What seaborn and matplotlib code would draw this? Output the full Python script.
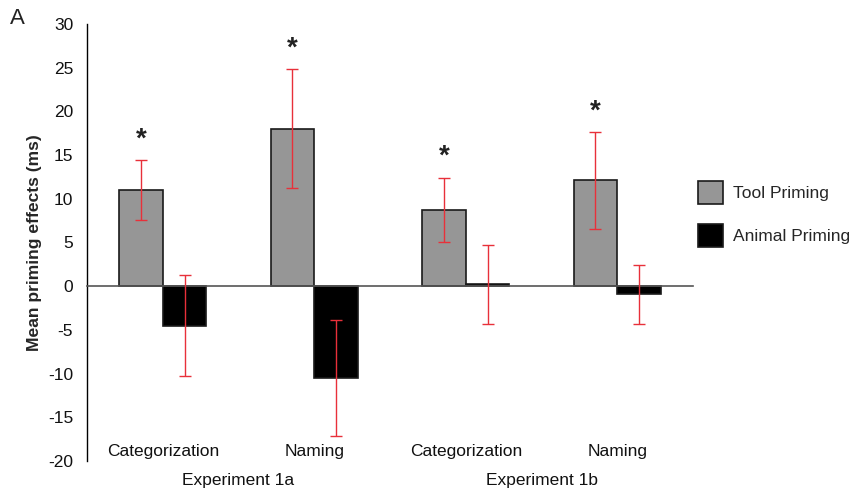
import matplotlib
matplotlib.use("Agg")
import matplotlib.pyplot as plt
import seaborn as sns
import pandas as pd
import numpy as np

# ---- data ----
categories = ["Categorization", "Naming", "Categorization ", "Naming "]
cat_labels = ["Categorization", "Naming", "Categorization", "Naming"]
groups = ["Experiment 1a", "Experiment 1b"]
tool_values = [11.0, 18.0, 8.7, 12.1]
tool_err = [3.4, 6.8, 3.7, 5.5]
animal_values = [-4.5, -10.5, 0.2, -0.95]
animal_err = [5.8, 6.6, 4.5, 3.4]
series = ["Tool Priming", "Animal Priming"]
significant = [True, True, True, True]

sns.set_theme(style="white")
plt.rcParams['font.family'] = ['Liberation Sans', 'DejaVu Sans']
plt.rcParams['axes.unicode_minus'] = False

df = pd.DataFrame({
    "cat": categories * 2,
    "series": [series[0]] * 4 + [series[1]] * 4,
    "value": tool_values + animal_values,
})

fig = plt.figure(figsize=(8.58, 4.96), dpi=100)
ax = fig.add_axes([0.1014, 0.0706, 0.8077 - 0.1014, 0.9516 - 0.0706])

sns.barplot(data=df, x="cat", y="value", hue="series", order=categories,
            hue_order=series, palette=["#969696", "#000000"], width=0.577,
            errorbar=None, edgecolor="#1a1a1a", linewidth=1.2, ax=ax,
            legend=True)

# error bars from bar patch centers
errs = tool_err + animal_err
vals = tool_values + animal_values
bars = [p for p in ax.patches if p.get_width() > 0][:8]
bars_sorted = sorted(bars[:4], key=lambda p: p.get_x()) + sorted(bars[4:8], key=lambda p: p.get_x())
for p, v, e in zip(bars_sorted, vals, errs):
    cx = p.get_x() + p.get_width() / 2
    ax.errorbar(cx, v, yerr=e, color="#e8303a", capsize=4.5, elinewidth=1.0,
                capthick=1.0, fmt="none", zorder=5)

# significance stars
for i, (p, v, e) in enumerate(zip(bars_sorted[:4], tool_values, tool_err)):
    if significant[i]:
        cx = p.get_x() + p.get_width() / 2
        ax.text(cx, v + e + 2.4, "*", ha="center", va="center", fontsize=20,
                fontweight="bold", color="#222222")

ax.set_ylim(-20, 30)
ax.set_xlim(-0.5, 3.5)
ax.set_yticks(np.arange(-20, 31, 5))
ax.set_xticks([0.5, 1.5, 2.5, 3.5])
ax.set_xticklabels([])
ax.set_xlabel("")
ax.set_ylabel("Mean priming effects (ms)", fontsize=12.6, fontweight="bold")
ax.yaxis.set_label_coords(-0.0743, 0.5)

for s in ["top", "right"]:
    ax.spines[s].set_visible(False)
ax.spines["bottom"].set_position(("data", 0))
ax.spines["bottom"].set_color("#555555")
ax.spines["bottom"].set_linewidth(1.2)
ax.spines["left"].set_color("#000000")
ax.spines["left"].set_linewidth(1.0)
ax.tick_params(axis="y", direction="out", length=6, width=1, labelsize=12.5, colors="#000000", pad=4)
ax.tick_params(axis="x", direction="out", length=5, width=1.2, colors="#555555")
ax.tick_params(axis="y", labelcolor="#111111")

# category labels
for i, lab in enumerate(cat_labels):
    ax.text(i, -18.9, lab, ha="center", va="center", fontsize=12.5, color="#111111")
# group labels
for j, g in enumerate(groups):
    ax.text(0.5 + 2 * j, -22.2, g, ha="center", va="center", fontsize=12.5,
            color="#111111", clip_on=False)

leg = ax.legend(loc="upper left", bbox_to_anchor=(1.008, 0.64), frameon=False,
                fontsize=12.5, handlelength=1.45, handleheight=1.6, labelspacing=1.2,
                handletextpad=0.55, borderaxespad=0.0, borderpad=0.0)

fig.text(0.012, 0.952, "A", fontsize=16, color="#222222")

fig.savefig("out.png", dpi=100)
